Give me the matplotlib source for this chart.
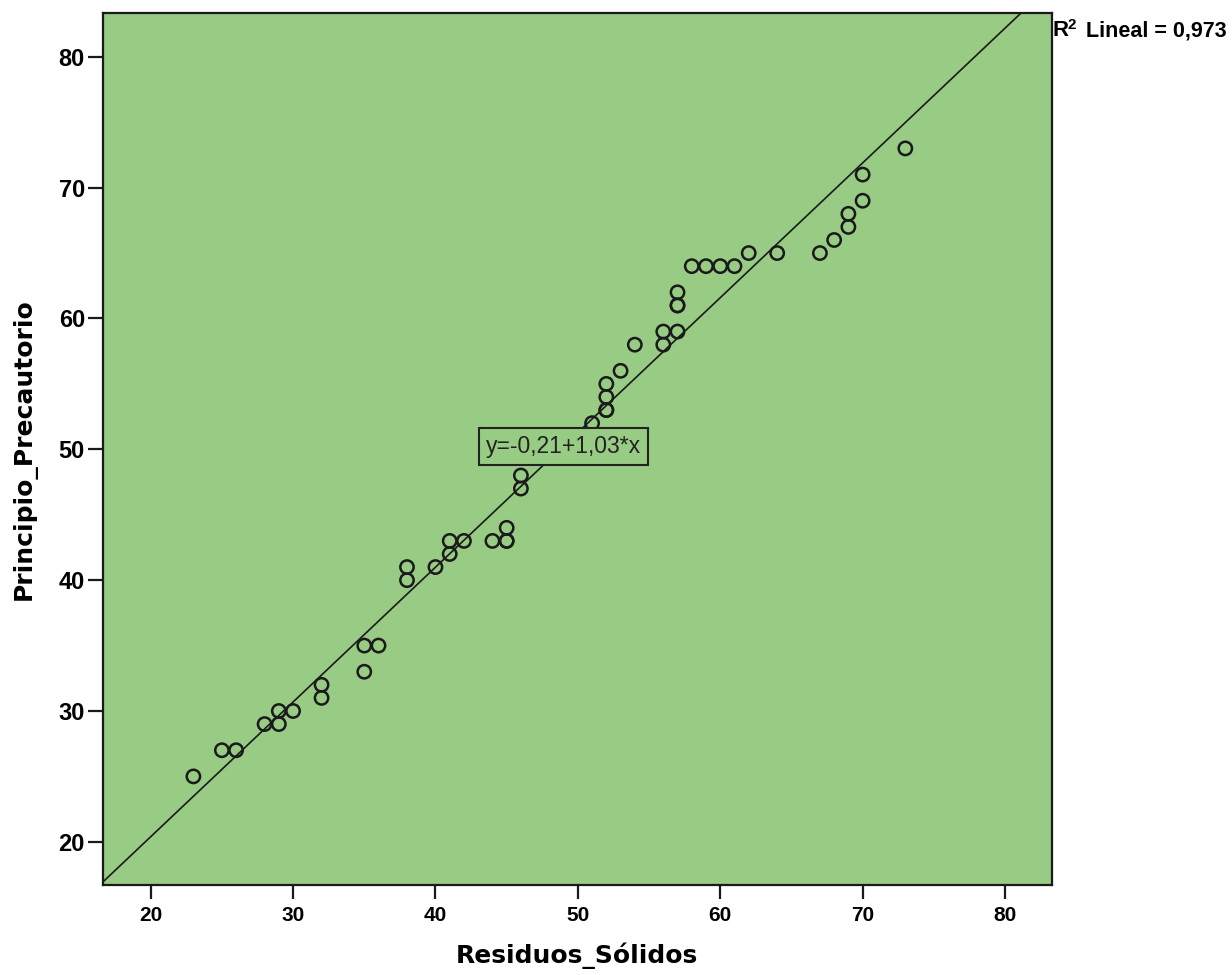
import matplotlib
matplotlib.use("Agg")
import matplotlib.pyplot as plt
import numpy as np

# Data
residuos = [23, 25, 26, 28, 29, 29, 30, 32, 32, 35, 35, 36, 38, 38, 40, 41, 41, 42, 44, 45,
            45, 45, 46, 46, 51, 52, 52, 52, 52, 53, 54, 56, 56, 57, 57, 57, 57, 58, 59, 60,
            61, 62, 64, 67, 68, 69, 69, 70, 70, 73]
principio = [25, 27, 27, 29, 29, 30, 30, 31, 32, 33, 35, 35, 40, 41, 41, 42, 43, 43, 43, 43,
             43, 44, 47, 48, 52, 53, 53, 54, 55, 56, 58, 58, 59, 59, 61, 61, 62, 64, 64, 64,
             64, 65, 65, 65, 66, 67, 68, 69, 71, 73]
intercept = -0.21
slope = 1.03
r2_value = "0,973"
eq_text = "y=-0,21+1,03*x"
x_ticks = [20, 30, 40, 50, 60, 70, 80]
y_ticks = [20, 30, 40, 50, 60, 70, 80]
xlabel = "Residuos_Sólidos"
ylabel = "Principio_Precautorio"

GREEN = "#98CB84"
DARK = "#1a1a1a"

fig = plt.figure(figsize=(12.32, 9.75), dpi=100)
fig.patch.set_facecolor("white")
ax = fig.add_axes([103 / 1232, 1 - 885 / 975, (1052 - 103) / 1232, (885 - 13) / 975])
ax.set_facecolor(GREEN)

xlim = (16.65, 83.3)
ylim = (16.7, 83.35)
ax.set_xlim(*xlim)
ax.set_ylim(*ylim)

# regression line
xl = np.array(xlim)
ax.plot(xl, intercept + slope * xl, color=DARK, lw=1.2, zorder=2, clip_on=True)

# points
ax.scatter(residuos, principio, s=92, facecolors="none", edgecolors=DARK,
           linewidths=1.8, zorder=3)

# equation box
ax.text(49.0, 50.2, eq_text, ha="center", va="center", fontsize=16.5,
        family="Liberation Sans", color="#222222", zorder=4,
        bbox=dict(boxstyle="square,pad=0.3", facecolor=GREEN, edgecolor="#222222", lw=1.5))

for s in ax.spines.values():
    s.set_color(DARK)
    s.set_linewidth(1.6)

ax.set_xticks(x_ticks)
ax.set_yticks(y_ticks)
ax.tick_params(axis="x", length=10, width=1.6, color=DARK, pad=5)
ax.tick_params(axis="y", length=11, width=1.6, color=DARK, pad=2)
for lab in ax.get_xticklabels():
    lab.set_fontfamily("Liberation Sans")
    lab.set_fontweight("bold")
    lab.set_fontsize(15)
for lab in ax.get_yticklabels():
    lab.set_fontfamily("Liberation Sans")
    lab.set_fontweight("bold")
    lab.set_fontsize(17)

fig.text(577 / 1232, 1 - 956 / 975, xlabel, ha="center", va="center",
         fontsize=18, fontweight="bold", family="DejaVu Sans")
fig.text(24 / 1232, 1 - 449 / 975, ylabel, ha="center", va="center", rotation=90,
         fontsize=18, fontweight="bold", family="DejaVu Sans")

fig.text(1053 / 1232, 1 - 31 / 975, "R", ha="left", va="center",
         fontsize=16, fontweight="bold", family="Liberation Sans")
fig.text(1068 / 1232, 1 - 25 / 975, "2", ha="left", va="center",
         fontsize=11, fontweight="bold", family="Liberation Sans")
fig.text(1086 / 1232, 1 - 31 / 975, "Lineal = " + r2_value, ha="left", va="center",
         fontsize=15.5, fontweight="bold", family="Liberation Sans")

fig.savefig("out.png", dpi=100, facecolor="white")
